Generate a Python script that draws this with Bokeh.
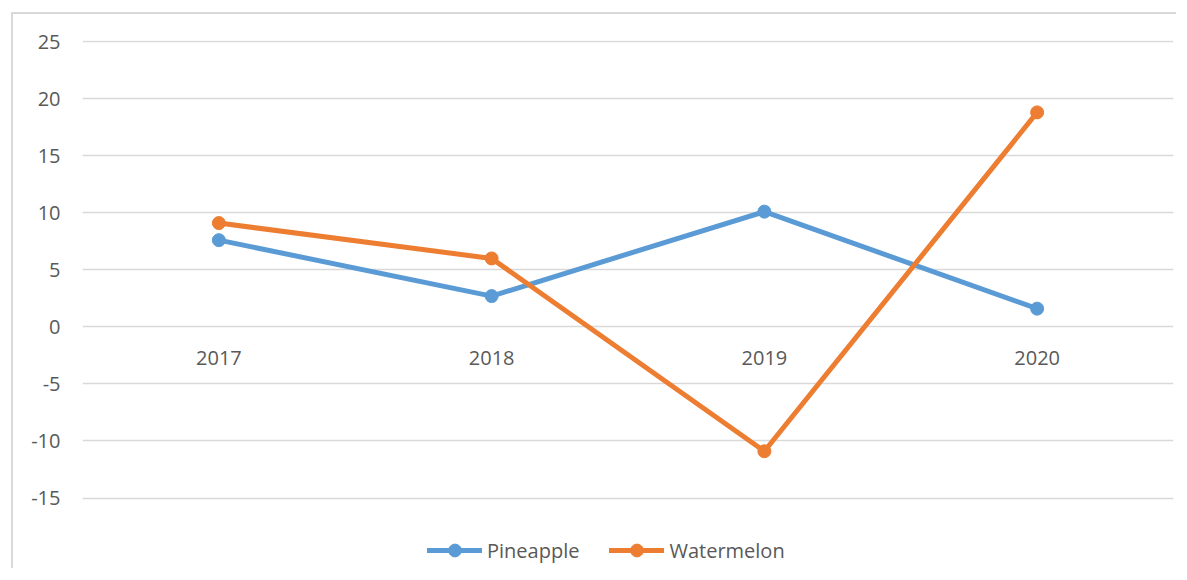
from bokeh.plotting import figure
from bokeh.models import Range1d, FactorRange, FixedTicker, Legend, LegendItem, ColumnDataSource, PrintfTickFormatter
from bokeh.core.properties import value
from bokeh.embed import file_html
from bokeh.resources import INLINE

categories = ["2017", "2018", "2019", "2020"]
pineapple = [7.6, 2.7, 10.1, 1.6]
watermelon = [9.1, 6.0, -10.9, 18.8]
y_ticks = [-15, -10, -5, 0, 5, 10, 15, 20, 25]
zero_row = [0, 0, 0, 0]

FONT = "Open Sans"
TXT = "#595959"
BLUE = "#5B9BD5"
ORANGE = "#ED7D31"

p = figure(width=1165, height=556, output_backend="svg", toolbar_location=None,
           x_range=FactorRange(*categories, range_padding=0),
           y_range=Range1d(-21, 25.1),
           min_border_left=69, min_border_right=5, min_border_top=26, min_border_bottom=4)
p.margin = (12, 0, 0, 11)
p.styles = {"border-top": "2px solid #D9D9D9", "border-left": "2px solid #D9D9D9"}
p.outline_line_color = None
p.xgrid.visible = False
p.ygrid.grid_line_color = "#D9D9D9"
p.ygrid.grid_line_width = 1.5
p.xaxis.visible = False

p.yaxis.ticker = FixedTicker(ticks=y_ticks)
p.yaxis.formatter = PrintfTickFormatter(format="%d")
p.yaxis.axis_line_color = None
p.yaxis.major_tick_line_color = None
p.yaxis.minor_tick_line_color = None
p.yaxis.major_tick_out = 0
p.yaxis.major_label_standoff = 22
p.yaxis.major_label_text_font = FONT
p.yaxis.major_label_text_font_size = "20px"
p.yaxis.major_label_text_color = TXT

src = ColumnDataSource(dict(x=categories, y=zero_row, t=categories))
p.text(x="x", y="y", text="t", source=src, text_align="center", text_baseline="middle",
       y_offset=31, text_font=value(FONT), text_font_size="20px", text_color=TXT)

l1 = p.line(categories, pineapple, line_width=5, color=BLUE, line_join="round", line_cap="round")
s1 = p.scatter(categories, pineapple, size=13, color=BLUE)
l2 = p.line(categories, watermelon, line_width=5, color=ORANGE, line_join="round", line_cap="round")
s2 = p.scatter(categories, watermelon, size=13, color=ORANGE)

legend = Legend(items=[LegendItem(label="Pineapple", renderers=[l1, s1]),
                       LegendItem(label="Watermelon", renderers=[l2, s2])],
                orientation="horizontal", location=(345, 0), padding=0, margin=0,
                spacing=30, glyph_width=55, glyph_height=32, label_standoff=5,
                label_text_font=FONT, label_text_font_size="20px", label_text_color=TXT,
                border_line_color=None, background_fill_alpha=0)
p.add_layout(legend, "center")

open("out.html", "w").write(file_html(p, INLINE))
